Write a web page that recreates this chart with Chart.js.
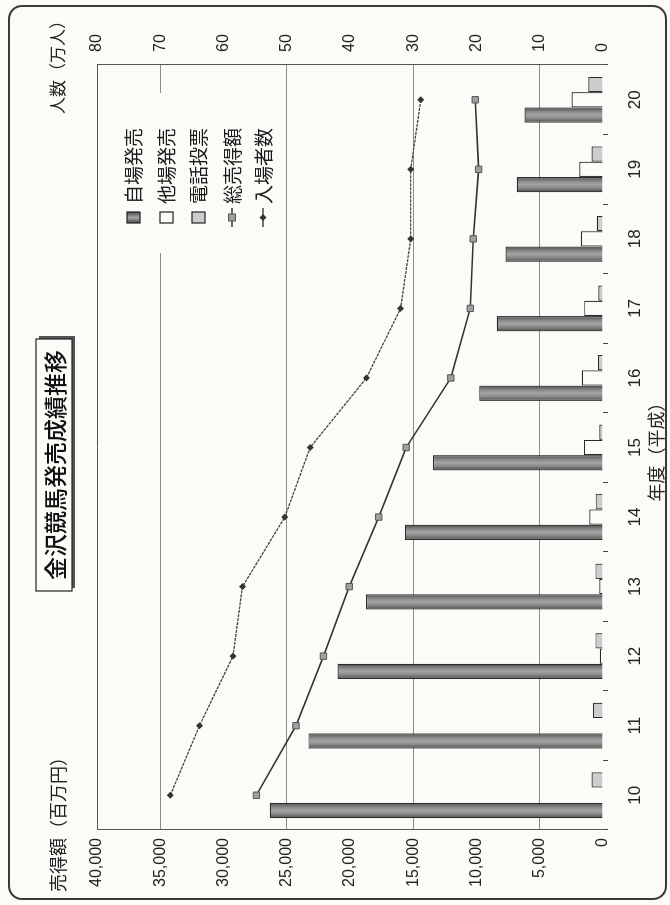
<!DOCTYPE html>
<html><head><meta charset="utf-8">
<script src="https://cdn.jsdelivr.net/npm/chart.js@4.4.1/dist/chart.umd.min.js"></script>
<style>
html,body{margin:0;padding:0;background:#fbfbf8;overflow:hidden;width:670px;height:905px;}
#wrap{position:absolute;left:0;top:0;width:905px;height:670px;transform-origin:0 0;transform:translateY(905px) rotate(-90deg);}
#frame{position:absolute;left:5px;top:8px;width:891px;height:655px;border:2px solid #3a3a3a;border-radius:14px;pointer-events:none;}
canvas{position:absolute;left:0;top:0;}
</style></head>
<body>
<div id="wrap"><canvas id="c" width="905" height="670"></canvas><div id="frame"></div></div>
<script>
const years = ['10','11','12','13','14','15','16','17','18','19','20'];
const jijo  = [26340, 23290, 20990, 18740, 15660, 13440, 9780, 8400, 7710, 6810, 6200];
const tajo  = [0, 60, 250, 300, 1090, 1510, 1670, 1490, 1750, 1880, 2490];
const denwa = [900, 800, 600, 600, 580, 290, 400, 370, 500, 900, 1170];
const total = [27400, 24270, 22100, 20060, 17730, 15560, 12030, 10490, 10260, 9830, 10100];
const visitors = [68.4, 63.8, 58.5, 57.0, 50.3, 46.3, 37.4, 32.0, 30.4, 30.4, 28.8];
const seriesNames = ['自場発売','他場発売','電話投票','総売得額','入場者数'];
const chartTitle = '金沢競馬発売成績推移';
const leftTitle = '売得額（百万円）';
const rightTitle = '人数（万人）';
const xTitle = '年度（平成）';

const NUM = "Arial, 'Liberation Sans', sans-serif";
const JP = "'Noto Sans CJK JP', sans-serif";
const CATPCT = 0.66;

function darkFill(c){
  const xs = c.chart.scales && c.chart.scales.x;
  if(!xs || c.dataIndex===undefined) return '#7e7e7e';
  const band = xs.getPixelForValue(1) - xs.getPixelForValue(0);
  const bw = band*CATPCT/3;
  const cx = xs.getPixelForValue(c.dataIndex) - bw;
  if(!isFinite(cx) || !isFinite(bw) || bw<=0) return '#7e7e7e';
  const g = c.chart.ctx.createLinearGradient(cx-bw/2, 0, cx+bw/2, 0);
  g.addColorStop(0,'#4c4c4c'); g.addColorStop(0.3,'#8c8c8c'); g.addColorStop(0.5,'#a4a4a4');
  g.addColorStop(0.7,'#8c8c8c'); g.addColorStop(1,'#4c4c4c');
  return g;
}

const decor = {
  id:'decor',
  afterDraw(chart){
    const ctx = chart.ctx, ca = chart.chartArea;
    ctx.save();
    ctx.strokeStyle='#555'; ctx.lineWidth=1;
    ctx.beginPath(); ctx.moveTo(ca.left, ca.top+0.5); ctx.lineTo(ca.right, ca.top+0.5); ctx.stroke();
    ctx.fillStyle='#222'; ctx.font='18px '+JP; ctx.textBaseline='middle';
    ctx.textAlign='left'; ctx.fillText(leftTitle, 13, 58);
    ctx.font='17px '+JP;
    ctx.textAlign='right'; ctx.fillText(rightTitle, 893, 58);
    ctx.font='500 23px '+JP;
    const tw = ctx.measureText(chartTitle).width;
    const cx = 440, cy = 54, bw = tw+22, bh = 36;
    ctx.fillStyle='#555'; ctx.fillRect(cx-bw/2+3, cy-bh/2+3, bw, bh);
    ctx.fillStyle='#fbfbf8'; ctx.fillRect(cx-bw/2, cy-bh/2, bw, bh);
    ctx.strokeStyle='#222'; ctx.lineWidth=1.2; ctx.strokeRect(cx-bw/2, cy-bh/2, bw, bh);
    ctx.fillStyle='#111'; ctx.textAlign='center'; ctx.fillText(chartTitle, cx, cy+1);
    ctx.fillStyle='#fbfbf8'; ctx.fillRect(652, 114, 160, 166);
    const rows=[133,166,198,232,263];
    const ds = chart.data.datasets;
    ctx.font='19px '+JP; ctx.textAlign='left';
    rows.forEach((oy,i)=>{
      const d = ds[i];
      if(d.type==='line'){
        ctx.strokeStyle=d.borderColor; ctx.lineWidth=1.5;
        ctx.beginPath(); ctx.moveTo(678,oy); ctx.lineTo(697,oy); ctx.stroke();
        ctx.fillStyle=d.pointBackgroundColor; ctx.strokeStyle=d.pointBorderColor; ctx.lineWidth=1;
        if(d.pointStyle==='rect'){ ctx.fillRect(684,oy-3.5,7,7); ctx.strokeRect(684,oy-3.5,7,7);}
        else { ctx.beginPath(); ctx.moveTo(687.5,oy-3.5); ctx.lineTo(691,oy); ctx.lineTo(687.5,oy+3.5); ctx.lineTo(684,oy); ctx.closePath(); ctx.fill(); }
      } else {
        let fill = d.legendColor || d.backgroundColor;
        if(i===0){ const g=ctx.createLinearGradient(682,0,693,0); g.addColorStop(0,'#4c4c4c'); g.addColorStop(0.5,'#a4a4a4'); g.addColorStop(1,'#4c4c4c'); fill=g; }
        ctx.fillStyle=fill; ctx.fillRect(682,oy-6,11,13);
        ctx.strokeStyle='#222'; ctx.lineWidth=1.2; ctx.strokeRect(682,oy-6,11,13);
      }
      ctx.fillStyle='#1a1a1a'; ctx.fillText(d.label, 701, oy+1);
    });
    ctx.restore();
  }
};

new Chart(document.getElementById('c'), {
  type:'bar',
  data:{
    labels: years,
    datasets:[
      {label:seriesNames[0], data:jijo, backgroundColor:darkFill, borderColor:'#2a2a2a', borderWidth:1.2, yAxisID:'y', order:2, categoryPercentage:CATPCT, barPercentage:1},
      {label:seriesNames[1], data:tajo, backgroundColor:'#fbfbf8', borderColor:'#2a2a2a', borderWidth:1.2, yAxisID:'y', order:2, categoryPercentage:CATPCT, barPercentage:1},
      {label:seriesNames[2], data:denwa, backgroundColor:'#cdcdcd', borderColor:'#2a2a2a', borderWidth:1.2, yAxisID:'y', order:2, categoryPercentage:CATPCT, barPercentage:1},
      {type:'line', label:seriesNames[3], data:total, yAxisID:'y', borderColor:'#333', borderWidth:1.6, pointStyle:'rect', pointRadius:4.5, pointBackgroundColor:'#a0a0a0', pointBorderColor:'#555', pointBorderWidth:1, tension:0, order:0},
      {type:'line', label:seriesNames[4], data:visitors, yAxisID:'y2', borderColor:'#444', borderWidth:1.3, borderDash:[3,1], pointStyle:'rectRot', pointRadius:3.5, pointBackgroundColor:'#333', pointBorderColor:'#333', pointBorderWidth:0, tension:0, order:0}
    ]
  },
  options:{
    responsive:false, animation:false, devicePixelRatio:1,
    layout:{padding:{left:0,right:0,top:97,bottom:0}},
    plugins:{legend:{display:false}, tooltip:{enabled:false}},
    scales:{
      x:{
        grid:{display:true, drawOnChartArea:false, drawTicks:true, tickLength:5, color:'#444', offset:true},
        border:{display:false},
        ticks:{color:'#222', font:{family:NUM, size:17}, padding:17},
        title:{display:true, text:xTitle, color:'#222', font:{family:JP, size:18}, padding:{top:0,bottom:3}},
        afterFit(s){ s.height = 67; }
      },
      y:{
        position:'left', min:0, max:40000,
        ticks:{stepSize:5000, color:'#222', font:{family:NUM, size:16}, padding:8,
          callback:v=>v.toLocaleString('en-US')},
        grid:{drawTicks:false, color:(c)=> (c.tick && c.tick.value%10000===5000) ? '#8c8c8c' : 'rgba(0,0,0,0)', lineWidth:1},
        border:{display:true, color:'#555', width:1},
        afterFit(s){ s.width = 75; }
      },
      y2:{
        position:'right', min:0, max:80,
        ticks:{stepSize:10, color:'#222', font:{family:NUM, size:16}, padding:13},
        grid:{drawOnChartArea:false, drawTicks:false},
        border:{display:true, color:'#555', width:1},
        afterFit(s){ s.width = 65; }
      }
    }
  },
  plugins:[decor]
});
</script>
</body></html>
